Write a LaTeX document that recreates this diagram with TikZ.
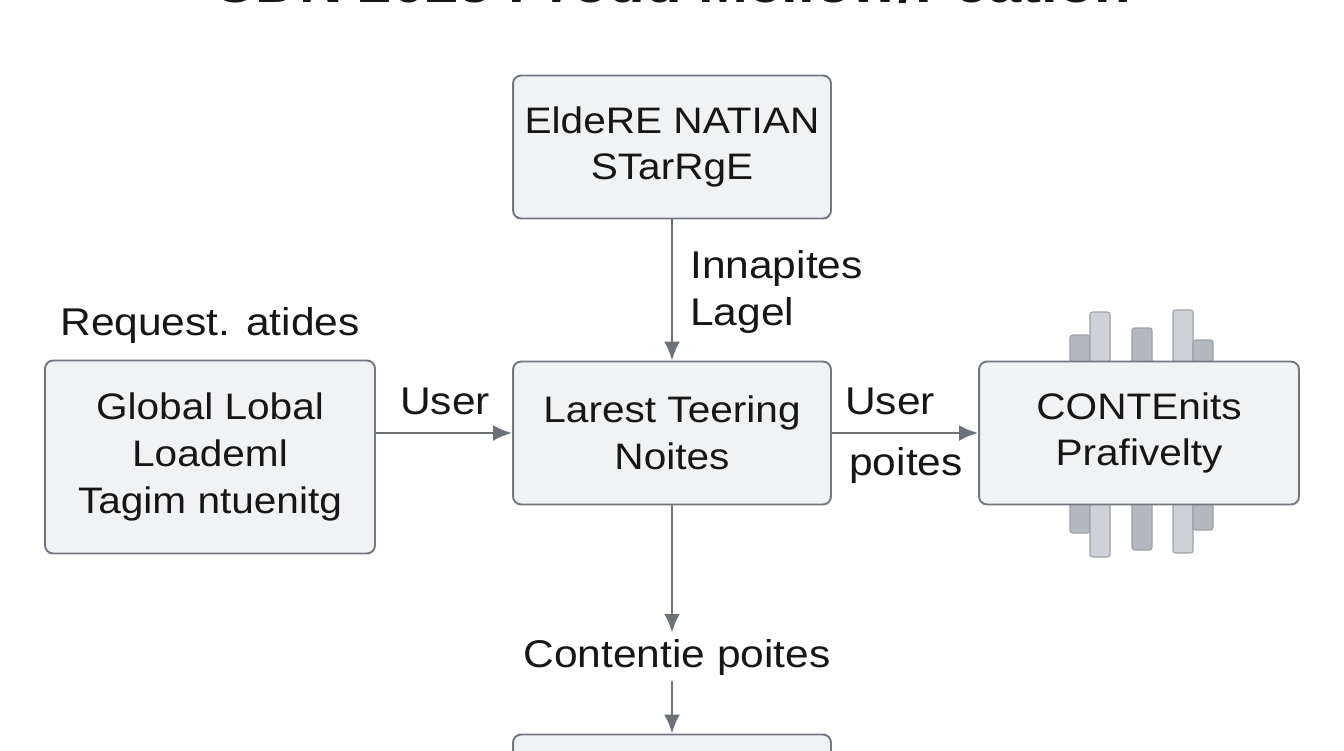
\documentclass[tikz,border=0pt]{standalone}
\usepackage{fontspec}
\setmainfont[FakeStretch=1.1]{Liberation Sans}
\usetikzlibrary{arrows.meta, positioning}

\definecolor{boxfill}{HTML}{F1F2F4}
\definecolor{boxline}{HTML}{737880}
\definecolor{arrowgray}{HTML}{6B7079}
\definecolor{ink}{HTML}{161616}
\definecolor{bardark}{HTML}{B4B9C1}
\definecolor{barlight}{HTML}{CED1D7}

\begin{document}
\begin{tikzpicture}[x=0.02cm, y=-0.02cm, >={Latex[length=0.38cm, width=0.32cm]},
    box/.style={draw=boxline, fill=boxfill, rounded corners=0.16cm, line width=1.1pt,
        align=center, text=ink, font=\fontsize{21}{26.5}\selectfont,
        minimum width=6.36cm, minimum height=2.86cm},
    lbl/.style={text=ink, font=\fontsize{22}{27}\selectfont},
    conn/.style={->, draw=arrowgray, line width=1.6pt},
    barbox/.style={draw=boxline!70, line width=0.6pt, rounded corners=0.05cm}]
    \useasboundingbox (0,0) rectangle (1344,750);

    % Titel (oben abgeschnitten)
    \node[text=ink, font=\bfseries\fontsize{31}{37}\selectfont] (title) at (672,-17) {CDN 2025 Prodd Mellow/Pcation};

    % Balken hinter dem rechten Kasten
    \foreach \xa/\ya/\yb/\c in {1070/335/533/bardark, 1090/312/557/barlight,
        1132/328/550/bardark, 1173/310/553/barlight, 1193/340/530/bardark}
        \draw[barbox, fill=\c] (\xa,\ya) rectangle (\xa+20,\yb);

    % Kaesten
    \node[box] (store) at (672,147) {EldeRE NATIAN\\STarRgE};
    \node[box] (tier) at (672,433) {Larest Teering\\Noites};
    \node[box, minimum width=6.6cm, minimum height=3.86cm] (global) at (210,457) {Global Lobal\\Loademl\\Tagim ntuenitg};
    \node[box, minimum width=6.4cm] (content) at (1139,433) {CONTEnits\\Prafivelty};
    \node[box] (origin) at (672,806) {};

    % Beschriftungen
    \node[lbl] (request) at (210,326) {Request. atides};
    \node[lbl, align=left, anchor=west] (inlabel) at (684,292) {Innapites\\Lagel};
    \node[lbl] (userin) at (445,401) {User};
    \node[lbl] (userout) at (890,401) {User};
    \node[lbl] (poites) at (906,465) {poites};
    \node[lbl] (contlabel) at (677,657) {Contentie poites};

    % Verbindungen
    \draw[conn] (store) -- (tier);
    \draw[conn] (global.east |- tier.west) -- (tier.west);
    \draw[conn] (tier) -- (content);
    \draw[conn] (tier.south) -- (tier.south |- contlabel.north);
    \draw[conn] (contlabel.south -| origin.north) -- (origin.north);
\end{tikzpicture}
\end{document}
